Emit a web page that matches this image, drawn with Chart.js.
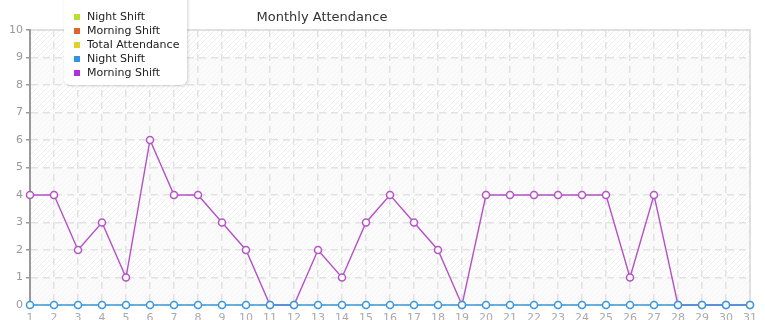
<!DOCTYPE html>
<html>
<head>
<meta charset="utf-8">
<script src="https://cdn.jsdelivr.net/npm/chart.js@4/dist/chart.umd.min.js"></script>
<style>
  body { margin: 0; background: #fff; font-family: "DejaVu Sans", sans-serif; }
  #wrap { position: relative; width: 765px; height: 320px; overflow: hidden; }
  #title { position: absolute; left: 222px; top: 9px; width: 200px; text-align: center; font-size: 13px; color: #333; }
  #legend { position: absolute; left: 64px; top: -6px; width: 123px; height: 91px; background: #fff;
            border-radius: 0 0 6px 6px; box-shadow: 1px 1px 3px rgba(0,0,0,0.18); font-size: 11px; color: #222; }
  #legend div { height: 14px; line-height: 14px; padding-left: 23px; position: relative; }
  #legend span { position: absolute; left: 10px; top: 4px; width: 6px; height: 6px; }
</style>
</head>
<body>
<div id="wrap">
  <canvas id="chart" width="765" height="320"></canvas>
  <div id="title">Monthly Attendance</div>
  <div id="legend"></div>
</div>
<script>
let days = [];
for (let d = 1; d <= 31; d++) days.push(String(d));

let nightShiftA = [];
let morningShiftA = [];
let totalAttendance = [];
let nightShiftB = [0,0,0,0,0,0,0,0,0,0,0,0,0,0,0,0,0,0,0,0,0,0,0,0,0,0,0,0,0,0,0];
let morningShiftB = [4,4,2,3,1,6,4,4,3,2,0,0,2,1,3,4,3,2,0,4,4,4,4,4,4,1,4,0,0,0,0];
let yTicks = [0,1,2,3,4,5,6,7,8,9,10];

let seriesNames = ['Night Shift', 'Morning Shift', 'Total Attendance', 'Night Shift', 'Morning Shift'];
let seriesColors = ['#b8e02e', '#e0632e', '#e0d22e', '#2e96e0', '#b02ee0'];
let lineColors = ['#b8e02e', '#e0632e', '#e0d22e', '#3a98d8', '#b552c6'];

// striped background bands behind the plot
const bandPlugin = {
    id: 'bands',
    beforeDraw(chart) {
        const {ctx, chartArea: a, scales: {y}} = chart;
        const pc = document.createElement('canvas');
        pc.width = 5; pc.height = 5;
        const p = pc.getContext('2d');
        p.fillStyle = '#ffffff'; p.fillRect(0, 0, 5, 5);
        p.strokeStyle = '#efefef'; p.lineWidth = 1;
        p.beginPath(); p.moveTo(0, 5); p.lineTo(5, 0); p.stroke();
        p.beginPath(); p.moveTo(-1, 1); p.lineTo(1, -1); p.stroke();
        p.beginPath(); p.moveTo(4, 6); p.lineTo(6, 4); p.stroke();
        ctx.save();
        ctx.fillStyle = ctx.createPattern(pc, 'repeat');
        ctx.fillRect(a.left, a.top, a.right - a.left, a.bottom - a.top);
        ctx.fillStyle = 'rgba(248,248,248,0.6)';
        for (let v = 0; v < 10; v += 2) {
            const t = y.getPixelForValue(v + 1), b = y.getPixelForValue(v);
            ctx.fillRect(a.left, t, a.right - a.left, b - t);
        }
        ctx.strokeStyle = '#dddddd'; ctx.lineWidth = 2;
        ctx.beginPath();
        ctx.moveTo(a.left, a.top); ctx.lineTo(a.right, a.top); ctx.lineTo(a.right, a.bottom);
        ctx.stroke();
        ctx.restore();
    }
};

const dataSeries = [nightShiftA, morningShiftA, totalAttendance, nightShiftB, morningShiftB];

let chart = new Chart(document.getElementById('chart').getContext('2d'), {
    type: 'line',
    data: {
        labels: days,
        datasets: dataSeries.map((d, i) => ({
            label: seriesNames[i],
            data: d,
            borderColor: lineColors[i],
            backgroundColor: '#ffffff',
            pointBackgroundColor: '#ffffff',
            pointBorderColor: lineColors[i],
            pointBorderWidth: 1.5,
            pointRadius: 3.5,
            borderWidth: 1.4,
            fill: false,
            clip: false,
            tension: 0
        }))
    },
    options: {
        responsive: false,
        animation: false,
        layout: {padding: {top: 30, right: 15, left: 0, bottom: 0}},
        plugins: {legend: {display: false}, title: {display: false}, tooltip: {enabled: false}},
        scales: {
            x: {
                offset: false,
                grid: {color: '#e2e2e2', lineWidth: 1.5, drawTicks: false},
                border: {display: false, dash: [7, 5]},
                ticks: {color: '#aaaaaa', font: {size: 11, family: 'DejaVu Sans'}, padding: 7, maxRotation: 0, autoSkip: false},
                afterFit(s) { s.height = 15; }
            },
            y: {
                min: 0, max: 10,
                afterBuildTicks(s) { s.ticks = yTicks.map(v => ({value: v})); },
                grid: {color: '#e2e2e2', lineWidth: 1.5, tickLength: 4, tickColor: '#999999', tickWidth: 1.5},
                border: {display: true, color: '#999999', width: 2, dash: [7, 5]},
                ticks: {color: '#999999', font: {size: 11, family: 'DejaVu Sans'}, padding: 3},
                afterFit(s) { s.width = 30; }
            }
        }
    },
    plugins: [bandPlugin]
});

let legend = document.getElementById('legend');
let html = '<div style="height:16px"></div>';
seriesNames.forEach((n, i) => {
    html += '<div><span style="background:' + seriesColors[i] + '"></span>' + n + '</div>';
});
legend.innerHTML = html;
</script>
</body>
</html>
